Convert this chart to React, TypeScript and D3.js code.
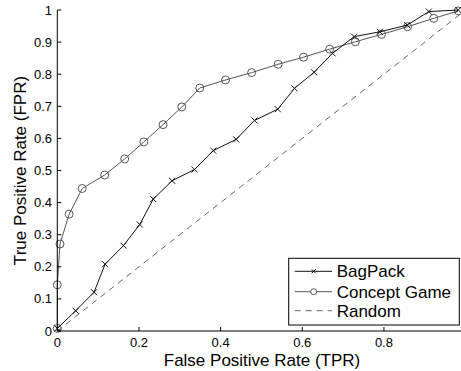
import * as d3 from 'd3';

const bagPackX = [0, 0.045, 0.09, 0.117, 0.162, 0.202, 0.235, 0.281, 0.336, 0.382, 0.438, 0.483, 0.54, 0.581, 0.629, 0.674, 0.727, 0.79, 0.857, 0.91, 0.982];
const bagPackY = [0.008, 0.063, 0.121, 0.208, 0.266, 0.332, 0.411, 0.468, 0.503, 0.562, 0.597, 0.656, 0.691, 0.756, 0.806, 0.865, 0.917, 0.932, 0.953, 0.995, 1.0];

const conceptX = [0, 0, 0.0066, 0.029, 0.061, 0.116, 0.165, 0.212, 0.259, 0.305, 0.349, 0.412, 0.476, 0.541, 0.603, 0.667, 0.73, 0.794, 0.858, 0.922, 0.982];
const conceptY = [0.008, 0.144, 0.271, 0.364, 0.444, 0.486, 0.536, 0.589, 0.643, 0.698, 0.757, 0.782, 0.805, 0.831, 0.853, 0.878, 0.901, 0.924, 0.948, 0.974, 0.997];

const randomX = [0, 1];
const randomY = [0, 1];

const xTicks = [0, 0.2, 0.4, 0.6, 0.8];
const yTicks = [0, 0.1, 0.2, 0.3, 0.4, 0.5, 0.6, 0.7, 0.8, 0.9, 1];

const legendLabels = ['BagPack', 'Concept Game', 'Random'];

const W = 461;
const H = 371;
const FONT = 'Liberation Sans, Arial, sans-serif';
const BAG = '#111';
const CON = '#555';
const RND = '#666';

export default function App() {
    const x = d3.scaleLinear().domain([0, 1]).range([57.3, 465.6]);
    const y = d3.scaleLinear().domain([0, 1]).range([331, 10]);

    const line = d3.line<[number, number]>()
        .x(d => x(d[0]))
        .y(d => y(d[1]));

    const bag: [number, number][] = bagPackX.map((v, i) => [v, bagPackY[i]]);
    const con: [number, number][] = conceptX.map((v, i) => [v, conceptY[i]]);
    const rnd: [number, number][] = randomX.map((v, i) => [v, randomY[i]]);

    const cross = (cx: number, cy: number, s: number, key: string) => (
        <path key={key} d={`M${cx - s},${cy - s}L${cx + s},${cy + s}M${cx - s},${cy + s}L${cx + s},${cy - s}`}
            stroke={BAG} strokeWidth={1} fill="none" />
    );

    // legend
    const lg = { x: 288.7, y: 258.3, w: 170.6, h: 66.7 };
    const rows = [271.3, 291.7, 310.7];

    return (
        <svg width={W} height={H} style={{ position: 'absolute', left: 0, top: 0, background: '#fff' }}
            fontFamily={FONT}>
            <rect width={W} height={H} fill="#fff" />

            {/* random */}
            <path d={line(rnd) || ''} stroke={RND} strokeWidth={1} fill="none" strokeDasharray="6,5" />

            {/* concept game */}
            <path d={line(con) || ''} stroke={CON} strokeWidth={1} fill="none" />
            {con.map((d, i) => (
                <circle key={'c' + i} cx={x(d[0])} cy={y(d[1])} r={4} fill="none" stroke={CON} strokeWidth={1} />
            ))}

            {/* bagpack */}
            <path d={line(bag) || ''} stroke={BAG} strokeWidth={1} fill="none" />
            {bag.map((d, i) => cross(x(d[0]), y(d[1]), 3, 'b' + i))}

            {/* axes */}
            <line x1={x(0)} x2={x(0)} y1={y(1)} y2={y(0)} stroke="#000" strokeWidth={1} />
            <line x1={x(0)} x2={W} y1={y(0)} y2={y(0)} stroke="#000" strokeWidth={1} />
            {yTicks.map(t => (
                <g key={'y' + t}>
                    <line x1={x(0)} x2={x(0) + 4} y1={y(t)} y2={y(t)} stroke="#000" />
                    <text x={52} y={y(t)} dy="0.35em" textAnchor="end" fontSize={13} fill="#000">{d3.format('~g')(t)}</text>
                </g>
            ))}
            {xTicks.map(t => (
                <g key={'x' + t}>
                    <line x1={x(t)} x2={x(t)} y1={y(0)} y2={y(0) - 4} stroke="#000" />
                    <text x={x(t)} y={347} textAnchor="middle" fontSize={13} fill="#000">{d3.format('~g')(t)}</text>
                </g>
            ))}

            <text x={262} y={366} textAnchor="middle" fontSize={17} fill="#000">False Positive Rate (TPR)</text>
            <text transform={`translate(26,${170.5}) rotate(-90)`} textAnchor="middle" fontSize={17} fill="#000">True Positive Rate (FPR)</text>

            {/* legend */}
            <rect x={lg.x} y={lg.y} width={lg.w} height={lg.h} fill="#fff" stroke="#000" strokeWidth={1} />
            <line x1={294.7} x2={332} y1={rows[0]} y2={rows[0]} stroke={BAG} />
            {cross(313.7, rows[0], 2, 'lb')}
            <line x1={294.7} x2={332} y1={rows[1]} y2={rows[1]} stroke={CON} />
            <circle cx={313.7} cy={rows[1]} r={3} fill="#fff" stroke={CON} />
            <line x1={294.7} x2={332} y1={rows[2]} y2={rows[2]} stroke={RND} strokeDasharray="6,5" />
            {legendLabels.map((l, i) => (
                <text key={l} x={336.7} y={rows[i]} dy="0.35em" fontSize={17} fill="#000">{l}</text>
            ))}
        </svg>
    );
}
